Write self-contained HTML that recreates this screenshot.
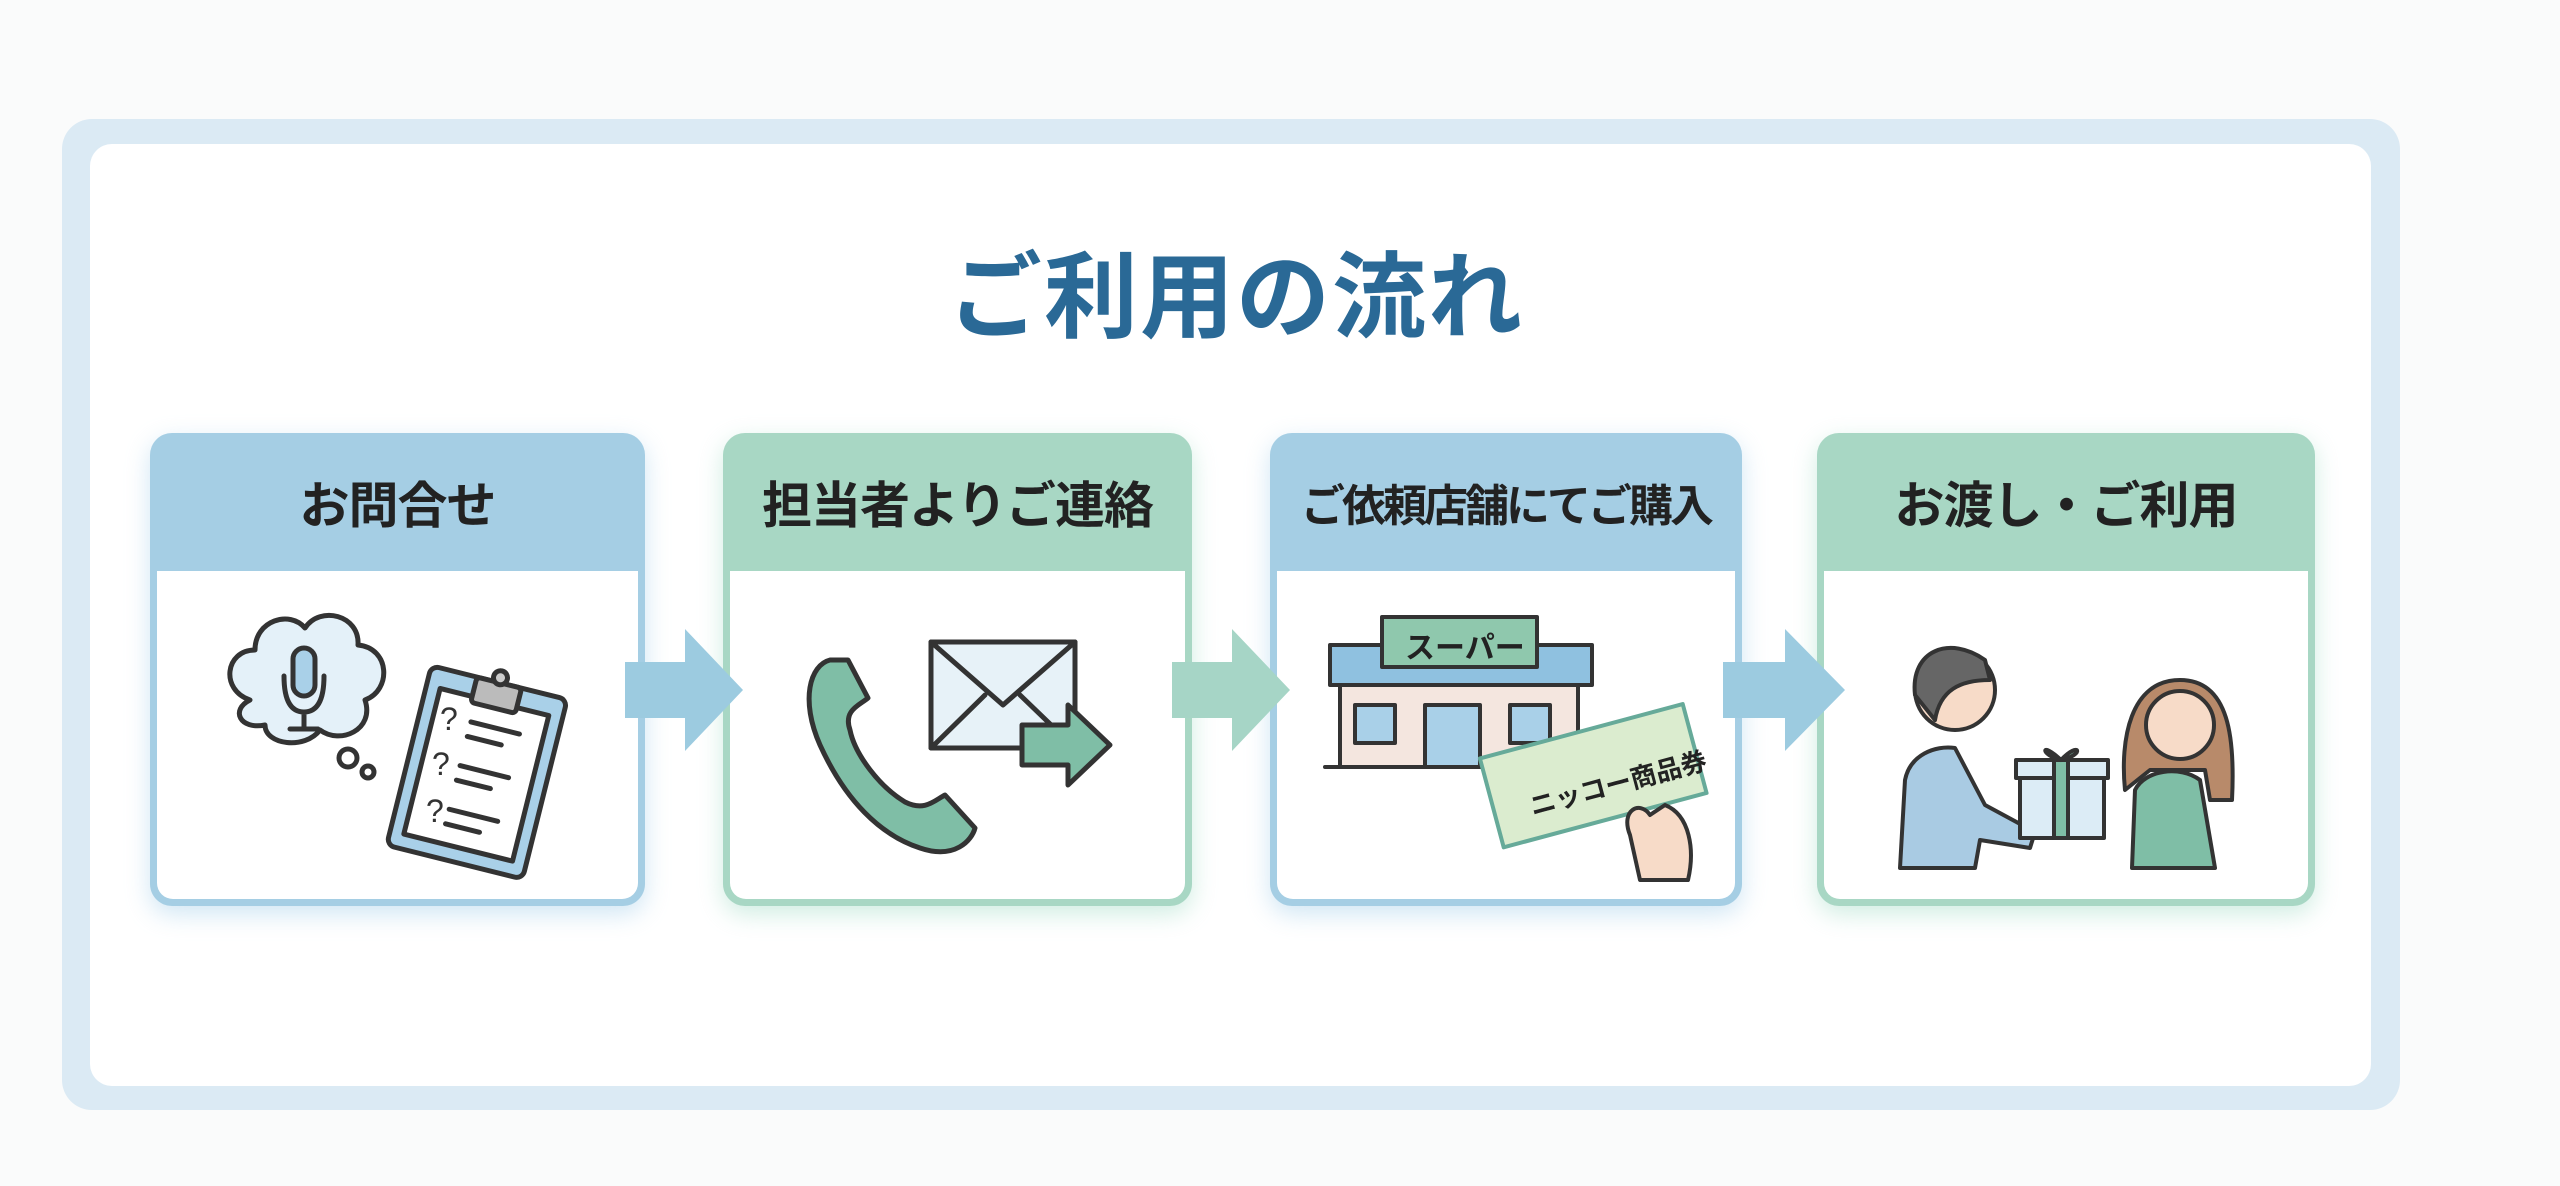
<!DOCTYPE html>
<html><head><meta charset="utf-8"><style>
html,body{margin:0;padding:0}
body{width:2560px;height:1186px;background:#fafbfb;position:relative;overflow:hidden;font-family:"Liberation Sans","Noto Sans CJK JP",sans-serif}
.frame{position:absolute;left:62px;top:119px;width:2338px;height:991px;background:#dbeaf4;border-radius:30px}
.panel{position:absolute;left:90px;top:144px;width:2281px;height:942px;background:#fff;border-radius:22px}
.title{position:absolute;left:0;width:2472px;top:222px;text-align:center;font-size:94px;font-weight:bold;color:#2a6996;letter-spacing:2px}
.card{position:absolute;top:433px;height:473px;border-radius:22px;box-shadow:0 8px 24px rgba(150,200,230,.45)}
.card .hd{position:absolute;left:0;right:0;top:0;height:138px;display:flex;align-items:center;justify-content:center;font-size:50px;font-weight:bold;color:#222;white-space:nowrap;letter-spacing:-1px}
.card .bd{position:absolute;left:7px;right:7px;top:138px;bottom:7px;background:#fff;border-radius:0 0 16px 16px}
.b{background:#a5cee4}.g{background:#a8d7c4}
.g.card{box-shadow:0 8px 24px rgba(150,215,190,.45)}
svg{position:absolute;left:0;top:0}
</style></head><body>
<div class="frame"></div><div class="panel"></div>
<div class="title">ご利用の流れ</div>
<div class="card b" style="left:150px;width:495px"><div class="hd">お問合せ</div><div class="bd"></div></div>
<div class="card g" style="left:723px;width:469px"><div class="hd">担当者よりご連絡</div><div class="bd"></div></div>
<div class="card b" style="left:1270px;width:472px"><div class="hd" style="font-size:44px;letter-spacing:-3px">ご依頼店舗にてご購入</div><div class="bd"></div></div>
<div class="card g" style="left:1817px;width:498px"><div class="hd">お渡し・ご利用</div><div class="bd"></div></div>
<svg width="2560" height="1186" viewBox="0 0 2560 1186" stroke-linejoin="round" stroke-linecap="round">
<polygon points="625,662 685,662 685,629 743,690 685,751 685,718 625,718" fill="#9ccbe0"/>
<polygon points="1172,662 1232,662 1232,629 1290,690 1232,751 1232,718 1172,718" fill="#a6d5c6"/>
<polygon points="1723,662 1785,662 1785,629 1845,690 1785,751 1785,718 1723,718" fill="#9ccbe0"/>
<g stroke="#333" stroke-width="5">
<path d="M250,700 C220,690 225,650 255,650 C255,620 290,610 305,628 C320,605 360,615 358,645 C390,648 392,690 365,700 C375,730 340,745 320,730 C305,750 265,745 265,725 C240,730 230,710 250,700Z" fill="#e4f1f9"/>
<circle cx="348" cy="758" r="9" fill="#fff"/><circle cx="368" cy="772" r="6" fill="#fff"/>
<rect x="293" y="648" width="22" height="48" rx="11" fill="#a9d0e8"/>
<path d="M284,676 Q284,712 304,712 Q324,712 324,676 M304,712 V728 M290,729 H318" fill="none"/>
<g transform="rotate(14 478 768)">
<rect x="408" y="680" width="140" height="185" rx="8" fill="#a9d0e8"/>
<rect x="422" y="700" width="112" height="150" fill="#fff"/>
<rect x="455" y="680" width="46" height="26" rx="4" fill="#bbb"/>
<circle cx="478" cy="675" r="7" fill="#ccc"/>
<path d="M460,725 H510 M460,740 H495 M460,770 H510 M460,785 H495 M460,815 H510 M460,830 H495" fill="none"/>
</g>
</g>
<g font-family="Liberation Sans" font-size="32" fill="#333"><text x="440" y="730">?</text><text x="432" y="775">?</text><text x="426" y="822">?</text></g>
<g stroke="#333" stroke-width="5">
<path d="M830,660 C810,665 800,700 820,745 C845,800 880,835 920,848 C955,860 972,840 975,828 L945,795 C935,800 925,812 905,802 C880,787 855,755 850,730 C843,710 860,705 868,698 L848,660Z" fill="#7fbea6"/>
<rect x="931" y="642" width="144" height="106" fill="#e7f2f8"/>
<path d="M931,642 L1003,705 L1075,642 M931,748 L985,695 M1075,748 L1020,695" fill="none"/>
<polygon points="1022,725 1068,725 1068,705 1110,745 1068,785 1068,765 1022,765" fill="#7fbea6"/>
</g>
<g stroke="#333" stroke-width="4">
<rect x="1340" y="685" width="238" height="82" fill="#f4e6df"/>
<rect x="1330" y="645" width="262" height="40" fill="#8fc1e0"/>
<rect x="1382" y="617" width="155" height="50" fill="#8fc8ad"/>
<rect x="1355" y="705" width="40" height="38" fill="#a9d0e8"/>
<rect x="1425" y="705" width="55" height="62" fill="#a9d0e8"/>
<rect x="1510" y="705" width="40" height="38" fill="#a9d0e8"/>
<line x1="1325" y1="767" x2="1595" y2="767"/>
<g transform="rotate(-15 1592 775)"><rect x="1488" y="730" width="210" height="92" fill="#dbeccf" stroke="#6a9"/></g>
<path d="M1630,835 C1620,810 1640,800 1650,815 L1665,805 C1690,815 1695,850 1688,880 L1640,880Z" fill="#f7dbc8"/>
</g>
<text x="1405" y="658" font-size="30" font-weight="bold" fill="#222">スーパー</text>
<text x="1528" y="800" font-size="26" font-weight="bold" fill="#222" transform="rotate(-15 1590 790)">ニッコー商品券</text>
<g stroke="#333" stroke-width="4">
<path d="M1900,868 L1905,780 C1910,755 1935,745 1955,748 L1985,805 L2035,832 L2030,848 L1980,840 L1975,868Z" fill="#a9cbe3"/>
<circle cx="1955" cy="690" r="40" fill="#f7dbc8"/>
<path d="M1915,695 C1910,650 1950,635 1985,660 L1990,680 C1960,680 1940,690 1935,720 Z" fill="#666"/>
<path d="M2132,868 L2135,790 C2145,770 2180,765 2200,780 L2215,868Z" fill="#7fbea6"/>
<path d="M2125,790 C2120,740 2130,680 2180,680 C2230,680 2235,740 2232,800 L2210,800 L2205,770 L2150,770Z" fill="#b88a6a"/>
<circle cx="2180" cy="725" r="34" fill="#f7dbc8"/>
<rect x="2020" y="772" width="84" height="66" fill="#dcecf6"/>
<rect x="2016" y="760" width="92" height="18" fill="#dcecf6"/>
<rect x="2054" y="760" width="14" height="78" fill="#7fbea6"/>
<path d="M2061,760 C2040,740 2040,755 2061,760 C2080,740 2085,755 2061,760" fill="#7fbea6"/>
</g>
</svg>
</body></html>
